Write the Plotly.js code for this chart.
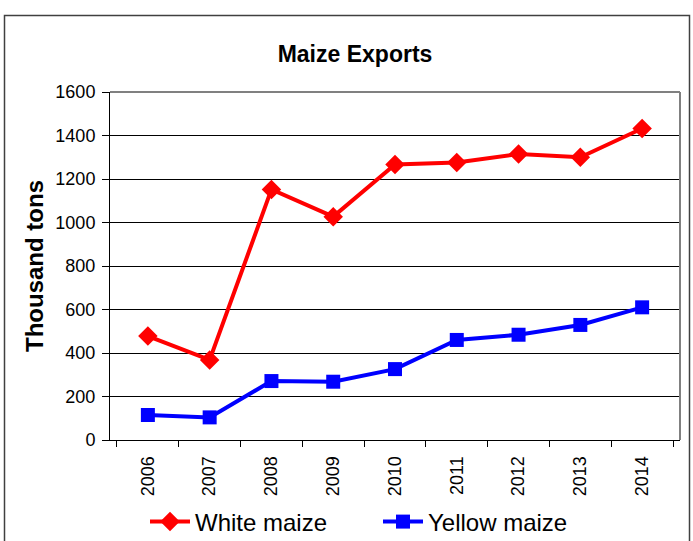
<!DOCTYPE html>
<html>
<head>
<meta charset="utf-8">
<script src="https://cdn.plot.ly/plotly-3.0.1.min.js"></script>
<style>
html,body{margin:0;padding:0;background:#fff;}
#chart{width:693px;height:541px;}
</style>
</head>
<body>
<div id="chart"></div>
<script>
const years = ["2006","2007","2008","2009","2010","2011","2012","2013","2014"];
const whiteMaize = [478, 368, 1152, 1027, 1267, 1276, 1315, 1300, 1432];
const yellowMaize = [115, 104, 271, 268, 326, 460, 484, 529, 610];
const yTicks = [0, 200, 400, 600, 800, 1000, 1200, 1400, 1600];

const font = "'Liberation Sans', Arial, sans-serif";

const traces = [
  {
    x: years, y: whiteMaize, name: "White maize", type: "scatter", mode: "lines+markers",
    line: {color: "#FF0000", width: 4},
    marker: {symbol: "diamond", size: 15, color: "#FF0000"}
  },
  {
    x: years, y: yellowMaize, name: "Yellow maize", type: "scatter", mode: "lines+markers",
    line: {color: "#0000FF", width: 4},
    marker: {symbol: "square", size: 14, color: "#0000FF"}
  }
];

const layout = {
  width: 693, height: 541,
  margin: {l: 110, r: 13, t: 92, b: 101},
  paper_bgcolor: "#ffffff", plot_bgcolor: "#ffffff",
  font: {family: font, color: "#000", size: 18},
  showlegend: true,
  title: {
    text: "<b>Maize Exports</b>",
    font: {family: font, size: 23, color: "#000"},
    x: 355/693, xref: "container", xanchor: "center",
    y: 1 - 54/541, yref: "container", yanchor: "middle"
  },
  xaxis: {
    type: "category",
    automargin: false,
    tickangle: -90,
    ticks: "outside", ticklen: 6, tickcolor: "#000", tickwidth: 1,
    tickson: "boundaries",
    ticklabelstandoff: 8,
    showgrid: false,
    showline: true, linecolor: "#000", linewidth: 1,
    tickfont: {family: font, size: 18, color: "#000"},
    fixedrange: true
  },
  yaxis: {
    automargin: false,
    range: [0, 1600],
    tickvals: yTicks,
    ticks: "outside", ticklen: 7, tickcolor: "#000", tickwidth: 1,
    ticklabelstandoff: 3,
    showgrid: true, gridcolor: "#000", gridwidth: 1,
    zeroline: false,
    showline: true, linecolor: "#000", linewidth: 1,
    tickfont: {family: font, size: 18, color: "#000"},
    title: {text: "<b>Thousand tons</b>", font: {family: font, size: 24, color: "#000"}, standoff: 4},
    fixedrange: true
  },
  legend: {
    orientation: "h",
    xref: "container", yref: "container",
    x: 145/693, xanchor: "left",
    y: 1 - 522/541, yanchor: "middle",
    font: {family: font, size: 24, color: "#000"},
    bgcolor: "rgba(0,0,0,0)",
    itemwidth: 40,
    entrywidth: 178,
    tracegroupgap: 0
  },
  shapes: [
    {type: "line", xref: "paper", yref: "paper", x0: 0, x1: 1, y0: 1, y1: 1, line: {color: "#808080", width: 2}},
    {type: "line", xref: "paper", yref: "paper", x0: 1, x1: 1, y0: 0, y1: 1, line: {color: "#808080", width: 2}},
    {type: "rect", xref: "paper", yref: "paper",
     x0: (4.5 - 110)/570, x1: (689.5 - 110)/570,
     y0: (440 - 560)/348, y1: (440 - 15.5)/348,
     line: {color: "#404040", width: 1.5}, fillcolor: "rgba(0,0,0,0)", layer: "below"}
  ]
};

Plotly.newPlot("chart", traces, layout, {displayModeBar: false, staticPlot: true});
</script>
</body>
</html>
